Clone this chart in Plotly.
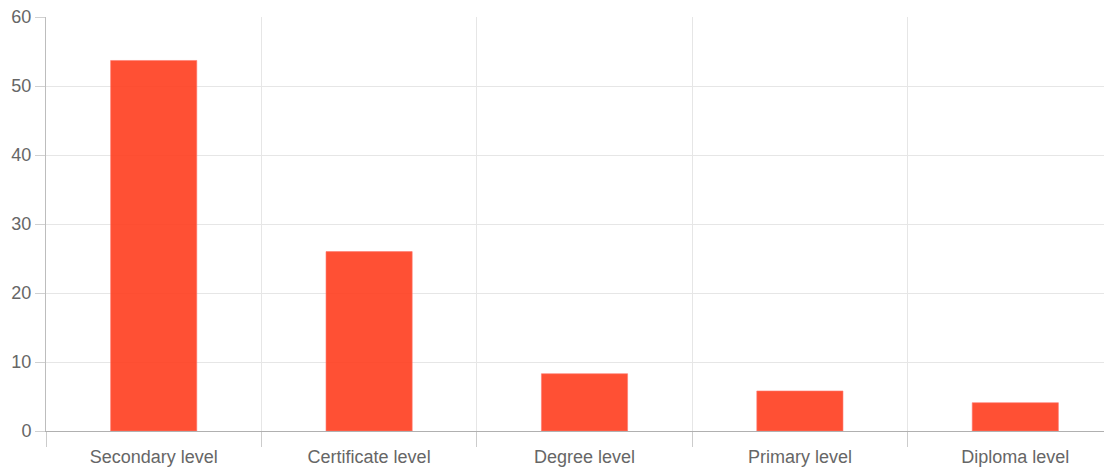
import plotly.graph_objects as go

categories = ["Secondary level", "Certificate level", "Degree level", "Primary level", "Diploma level"]
values = [53.7, 26.0, 8.3, 5.8, 4.1]
y_ticks = [0, 10, 20, 30, 40, 50, 60]

fig = go.Figure()
fig.add_trace(go.Bar(
    x=categories, y=values, width=0.4,
    marker=dict(color="rgba(255,61,30,0.9)", line=dict(color="rgba(255,120,110,0.6)", width=1)),
    hoverinfo="x+y",
))
fig.update_layout(
    width=1115, height=460,
    margin=dict(l=38, r=0, t=9, b=37),
    paper_bgcolor="white", plot_bgcolor="white",
    font=dict(family="Arial, Liberation Sans, sans-serif", size=18, color="#666666"),
    showlegend=False, bargap=0.6,
)
fig.update_xaxes(
    type="category", tickson="boundaries", showgrid=True, gridcolor="#e6e6e6", gridwidth=1,
    ticks="outside", ticklen=15, tickcolor="#cccccc", tickwidth=1,
    showline=True, linecolor="#b0b0b0", linewidth=1, zeroline=False,
    range=[-0.5, 4.5], automargin=False, ticklabelstandoff=9,
)
fig.update_yaxes(
    range=[0, 60], tickvals=y_ticks, showgrid=True, gridcolor="#e6e6e6", gridwidth=1,
    ticks="outside", ticklen=10, tickcolor="#d0d0d0", tickwidth=1,
    showline=True, linecolor="#bdbdbd", linewidth=1, zeroline=False, automargin=False,
    ticklabeloverflow="allow",
)
fig.write_html("out.html")
